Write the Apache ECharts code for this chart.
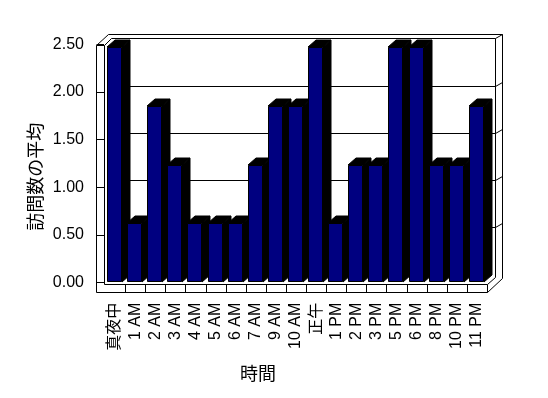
<!DOCTYPE html>
<html><head><meta charset="utf-8">
<script src="https://cdn.jsdelivr.net/npm/echarts@6/dist/echarts.min.js"></script>
<style>html,body{margin:0;padding:0;background:#fff}#c{width:548px;height:398px}</style>
</head><body><div id="c"></div>
<script>
const categories = ['真夜中','1 AM','2 AM','3 AM','4 AM','5 AM','6 AM','7 AM','9 AM','10 AM','正午','1 PM','2 PM','3 PM','5 PM','6 PM','8 PM','10 PM','11 PM'];
const visits = [2.5,0.625,1.875,1.25,0.625,0.625,0.625,1.25,1.875,1.875,2.5,0.625,1.25,1.25,2.5,2.5,1.25,1.25,1.875];
const yTicks = [0,0.5,1,1.5,2,2.5];
const xTitle = '時間';
const yTitle = '訪問数の平均';

const FONT = "'Liberation Sans', 'Noto Sans CJK JP', sans-serif";
const yMax = yTicks[yTicks.length-1];
const yStep = yTicks[1]-yTicks[0];
const gridLines = yTicks.slice(1, -1);
const S = v => Math.round(v) + 0.5;

function line(pts, z){
  return {type:'polyline', z2: z||1, shape:{points: pts.map(p=>[S(p[0]),S(p[1])])}, style:{stroke:'#000', lineWidth:1, fill:null}};
}

function renderFrame(params, api){
  const n = categories.length;
  const bw = api.size([1,0])[0];
  const xL = api.coord([0,0])[0] - bw/2;
  const xR = api.coord([n-1,0])[0] + bw/2;
  const y0 = api.coord([0,0])[1];
  const yT = api.coord([0,yMax])[1];
  const xo = xL - 8.7, xi = xL - 1.3;
  const yWallTop = yT - 2.3;
  const fTop = y0 + 2, fBot = y0 + 10.3;
  const bInL = xL + 6, bInR = xR + 7.5, bInT = yT - 9.3;
  const bOutL = xL + 2.5, bOutR = xR + 14.7, bOutT = yT - 13.3;
  const ch = [];
  // back wall outer & inner
  ch.push(line([[xo,yWallTop],[bOutL,bOutT],[bOutR,bOutT],[bOutR,y0-3.4],[xR,fBot]]));
  ch.push(line([[xi,yWallTop],[bInL,bInT],[bInR,bInT],[bInR,y0-4.5]]));
  ch.push(line([[bInR,bInT],[bOutR,bOutT]]));
  ch.push(line([[xR,fTop],[bInR,y0-4.5]]));
  // grid lines on back wall
  gridLines.forEach(v=>{
    const y = api.coord([0,v])[1] - 8.3;
    ch.push(line([[bInL,y],[bInR,y],[bOutR,y-4]]));
  });
  // left wall front
  ch.push(line([[xo,fBot],[xo,yWallTop],[xi,yWallTop],[xi,fTop]]));
  // floor front face
  ch.push(line([[xo,fBot],[xR,fBot],[xR,fTop],[xi,fTop]]));
  for(let k=1;k<n;k++){
    const x = xL + k*bw;
    ch.push(line([[x,fTop],[x,fBot]]));
  }
  return {type:'group', children: ch};
}

function renderBar(params, api){
  const i = api.value(0), v = api.value(1);
  const top = api.coord([i, v]);
  const base = api.coord([i, 0]);
  const bw = api.size([1,0])[0];
  const fl = Math.round(top[0] - bw/2 + 2);
  const fr = Math.round(fl + bw*0.77);
  const ty = Math.round(top[1]);
  const by = Math.round(base[1]);
  const dx = 8, dy = -7;
  return {type:'group', children:[
    {type:'polygon', shape:{points:[[fl,ty],[fr,ty],[fr+dx,ty+dy],[fl+dx,ty+dy]]}, style:{fill:'#000', stroke:'#000', lineWidth:1}},
    {type:'polygon', shape:{points:[[fr,ty],[fr+dx,ty+dy],[fr+dx,by+dy],[fr,by]]}, style:{fill:'#000', stroke:'#000', lineWidth:1}},
    {type:'rect', shape:{x:fl+0.5, y:ty+0.5, width:fr-fl-1, height:by-ty-1}, style:{fill:'#000080', stroke:'#000', lineWidth:1}}
  ]};
}

const chart = echarts.init(document.getElementById('c'), null, {renderer:'canvas'});
chart.setOption({
  backgroundColor:'#fff',
  animation:false,
  textStyle:{fontFamily:FONT, color:'#000'},
  grid:[
    {left:104, right:61, top:44.2, bottom:115.5, containLabel:false, outerBoundsMode:'none'},
    {left:105, right:61, top:47.3, bottom:116.3, containLabel:false, outerBoundsMode:'none'}
  ],
  xAxis:[
    {gridIndex:0, type:'value', show:false},
    {gridIndex:1, type:'category', data:categories,
      axisLine:{show:false}, axisTick:{show:false}, splitLine:{show:false},
      axisLabel:{rotate:90, margin:21, fontSize:16, color:'#000', fontFamily:FONT, interval:0}}
  ],
  yAxis:[
    {gridIndex:0, type:'value', min:0, max:yMax, interval:yStep,
      axisLine:{show:false}, splitLine:{show:false},
      axisTick:{show:true, length:7.5, lineStyle:{color:'#000', width:1}},
      axisLabel:{margin:20, fontSize:16, color:'#000', fontFamily:FONT, formatter:v=>v.toFixed(2)}},
    {gridIndex:1, type:'value', min:0, max:yMax, show:false, splitLine:{show:false}}
  ],
  graphic:[
    {type:'text', x:258, y:375, style:{text:xTitle, fontSize:18, fontFamily:FONT, fill:'#000', align:'center', verticalAlign:'middle'}},
    {type:'text', x:37, y:176.7, rotation:Math.PI/2, style:{text:yTitle, fontSize:18, fontFamily:FONT, fill:'#000', align:'center', verticalAlign:'middle'}}
  ],
  series:[
    {type:'custom', xAxisIndex:1, yAxisIndex:1, z:2, clip:false, silent:true, renderItem:renderFrame, data:[[0,0]]},
    {type:'custom', xAxisIndex:1, yAxisIndex:1, z:3, clip:false, renderItem:renderBar, data:visits.map((v,i)=>[i,v])}
  ]
});
</script></body></html>
